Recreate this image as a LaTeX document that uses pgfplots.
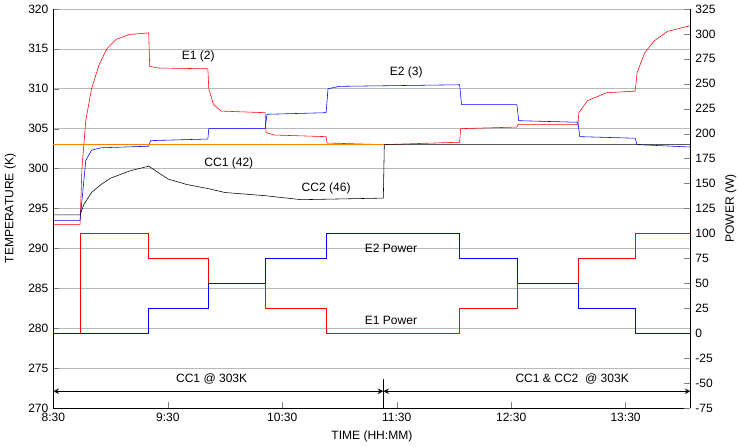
\documentclass[border=0pt]{standalone}
\usepackage{pgfplots}
\pgfplotsset{compat=1.18}
\usepackage{fontspec}
\setmainfont{Liberation Sans}
\begin{document}
\begin{tikzpicture}[font=\fontsize{8.6}{10}\selectfont]
\pgfplotsset{every axis/.style={scale only axis, width=455pt, height=285pt, xmin=0, xmax=334,
  /pgf/number format/assume math mode=true, tick label style={font=\fontsize{8.6}{10}\selectfont},
  label style={font=\fontsize{8.6}{10}\selectfont}}}
\begin{axis}[ymin=270, ymax=320, ytick={270,275,...,320},
  xtick={0,60,...,300}, xticklabels={8:30,9:30,10:30,11:30,12:30,13:30},
  ymajorgrids, grid style={gray!55}, tick align=inside,
  ylabel={TEMPERATURE (K)}, xlabel={TIME (HH:MM)},
  ylabel style={yshift=2pt},
  axis y line*=left, axis x line*=bottom, clip=false]
\addplot[red] coordinates {(0,293) (14,293) (15,300) (17,306) (20,310) (24,313) (28,315) (33,316.2) (40,316.8) (50,317)
 (50.5,312.8) (55,312.6) (81,312.5) (81.5,310) (84,308) (88,307.2) (111,307) (111.5,304.5) (116,304.2) (143,304)
 (143.5,303.2) (173,303) (213,303.3) (213.5,305) (243,305.2) (243.5,305.5) (275,305.5) (275.5,307) (280,308.5)
 (290,309.5) (305,309.7) (306,312) (310,314.5) (315,316) (322,317.2) (334,317.9)};
\addplot[blue] coordinates {(0,293.5) (14,293.5) (15,296) (17,301) (20,302.3) (25,302.6) (50,302.8) (51,303.5) (81,303.7)
 (81.5,305) (111,305) (112,306.8) (143,307) (144,310) (150,310.3) (213,310.5) (214,308) (243,308) (244,306) (275,305.8)
 (276,304) (305,303.8) (306,303) (334,302.7)};
\addplot[black] coordinates {(0,294.2) (14,294.2) (16,295.5) (20,297) (25,298) (30,298.8) (40,299.7) (50,300.3) (55,299.5)
 (60,298.7) (70,298) (81,297.5) (90,297) (111,296.6) (130,296.1) (173,296.3) (173.5,303) (334,303)};
\addplot[orange, thick] coordinates {(0,303.05) (173,303.05)};
\node at (axis cs:76,314) {E1 (2)};
\node at (axis cs:185,312) {E2 (3)};
\node at (axis cs:92,300.7) {CC1 (42)};
\node at (axis cs:143,297.5) {CC2 (46)};
\node at (axis cs:177,290) {E2 Power};
\node at (axis cs:177,281) {E1 Power};
\draw[<->, >=stealth, thick] (axis cs:0,272.1) -- (axis cs:173,272.1);
\draw[<->, >=stealth, thick] (axis cs:173,272.1) -- (axis cs:334,272.1);
\draw[thick] (axis cs:173,270) -- (axis cs:173,273.6);
\node at (axis cs:83,273.6) {CC1 @ 303K};
\node at (axis cs:272,273.6) {CC1 \& CC2\ \ @ 303K};
\end{axis}
\begin{axis}[ymin=-75, ymax=325, ytick={-75,-50,...,325}, axis y line*=right, axis x line=none,
  ylabel={POWER (W)}, tick align=inside]
\addplot[red] coordinates {(0,0) (14,0) (14,100) (50,100) (50,75) (81,75) (81,50) (111,50) (111,25) (143,25) (143,0)
 (213,0) (213,25) (243,25) (243,50) (275,50) (275,75) (305,75) (305,100) (334,100)};
\addplot[blue] coordinates {(0,0) (14,0) (50,0) (50,25) (81,25) (81,50) (111,50) (111,75) (143,75) (143,100)
 (213,100) (213,75) (243,75) (243,50) (275,50) (275,25) (305,25) (305,0) (334,0)};
\end{axis}
\end{tikzpicture}
\end{document}
